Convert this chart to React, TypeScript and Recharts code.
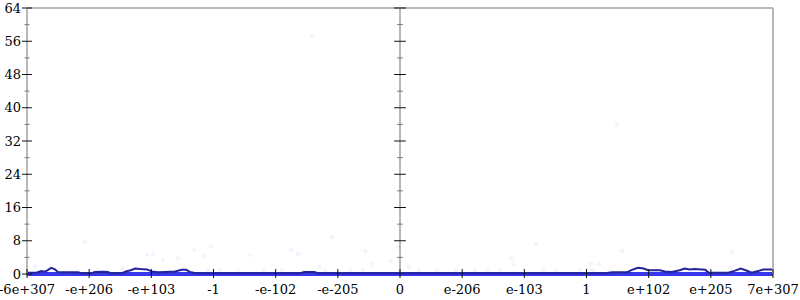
import React from "react";
import {
  ComposedChart,
  Line,
  ReferenceLine,
  Scatter,
  XAxis,
  YAxis,
} from "recharts";

const AXIS = "#b8b8b8";
const TICK = "#111111";
const MINOR = "#777777";
const DENSITY = "#24249a";
const BAND = "#3636ec";
const DOT = "#4a4aff";
const FONT = "'DejaVu Serif', serif";

// x positions are bucket indices (-6 .. 6), labelled with the bucket edges
const xTicks = [-6, -5, -4, -3, -2, -1, 0, 1, 2, 3, 4, 5, 6];
const xLabels = [
  "-6e+307", "-e+206", "-e+103", "-1", "-e-102", "-e-205", "0",
  "e-206", "e-103", "1", "e+102", "e+205", "7e+307",
];
const yTicks = [0, 4, 8, 12, 16, 20, 24, 28, 32, 36, 40, 44, 48, 52, 56, 60, 64];

// smoothed density curve
const densityX = [
  -6.0, -5.84, -5.77, -5.71, -5.66, -5.61, -5.55, -5.5, -5.37, -5.18, -5.12,
  -4.95, -4.91, -4.78, -4.7, -4.66, -4.47, -4.41, -4.33, -4.26, -4.18, -4.07,
  -3.99, -3.89, -3.78, -3.62, -3.51, -3.44, -3.38, -3.28, -1.61, -1.54, -1.38,
  -1.32, 0.0, 3.3, 3.41, 3.65, 3.73, 3.83, 3.92, 3.99, 4.18, 4.26, 4.37, 4.5,
  4.58, 4.66, 4.74, 4.91, 4.97, 5.28, 5.39, 5.48, 5.56, 5.66, 5.76, 5.84, 6.0,
];
const densityY = [
  0.3, 0.35, 0.7, 0.55, 1.0, 1.5, 1.1, 0.45, 0.4, 0.4, 0.2,
  0.2, 0.5, 0.55, 0.5, 0.2, 0.2, 0.6, 0.9, 1.3, 1.2, 1.1,
  0.6, 0.4, 0.5, 0.6, 1.0, 1.0, 0.5, 0.2, 0.2, 0.5, 0.5,
  0.2, 0.2, 0.2, 0.4, 0.4, 1.0, 1.5, 1.3, 0.9, 0.9, 0.6, 0.5, 0.9,
  1.3, 1.1, 1.2, 1.0, 0.3, 0.3, 0.8, 1.3, 0.9, 0.3, 0.7, 1.1, 1.1,
];

// faint individual samples
const sampleX = [
  -4.07, -3.97, -3.81, -3.57, -3.31, -3.14, -3.04, -2.41, -1.75, -1.64, -1.09,
  -1.3, -0.56, -0.45, -0.15, -0.03, 0.14, 1.79, 1.82, 2.19, 3.07, 3.2, 3.57,
  5.34, 5.31, -5.07, -5.87, -4.47, -1.42, 3.49,
  -3.1, -2.9, -2.6, -2.2, -1.9, -1.2, -0.8, -0.6, 0.3, 0.6, 0.9, 1.2, 1.4,
  1.6, 2.3, 2.5, 2.9, 3.1,
];
const sampleY = [
  4.6, 4.8, 3.4, 3.8, 5.8, 4.3, 6.7, 4.6, 5.8, 4.8, 8.9,
  1.7, 5.5, 2.6, 3.1, 6.5, 1.7, 3.8, 2.4, 7.2, 2.6, 2.4, 5.5,
  5.3, 1.4, 7.7, 1.9, 1.4, 57.3, 35.9,
  0.9, 1.0, 0.8, 0.9, 1.0, 0.8, 0.9, 1.0, 0.9, 0.8, 1.0, 0.9, 0.8,
  1.0, 0.9, 0.8, 1.0, 0.9,
];

const density = densityX.map((u, i) => ({ u, v: densityY[i] }));
const samples = sampleX.map((u, i) => ({ u, v: sampleY[i] }));

function LeftTick({ x, y, payload }: any) {
  const major = payload.value % 8 === 0;
  return (
    <g>
      <line
        x1={x - (major ? 5 : 2.5)}
        x2={x + (major ? 5 : 2.5)}
        y1={y}
        y2={y}
        stroke={major ? TICK : MINOR}
      />
      {major && (
        <text x={x - 6} y={y + 4.5} textAnchor="end" fontSize={13} fontFamily={FONT} fill="#000">
          {payload.value}
        </text>
      )}
    </g>
  );
}

function RightTick({ x, y, payload }: any) {
  const major = payload.value % 8 === 0;
  return (
    <line
      x1={x - (major ? 5 : 2.5)}
      x2={x + (major ? 5 : 2.5)}
      y1={y}
      y2={y}
      stroke={major ? TICK : MINOR}
    />
  );
}

function BottomTick({ x, y, payload, index }: any) {
  return (
    <g>
      <line x1={x} x2={x} y1={y - 5} y2={y + 4} stroke={TICK} />
      <text x={x} y={y + 20} textAnchor="middle" fontSize={13} fontFamily={FONT} fill="#000">
        {xLabels[index] ?? payload.value}
      </text>
    </g>
  );
}

function Dot({ cx, cy }: any) {
  return <circle cx={cx} cy={cy} r={2.2} fill={DOT} fillOpacity={0.06} />;
}

export default function App() {
  return (
    <div style={{ position: "absolute", left: 0, top: 0, width: 800, height: 300, background: "#fff" }}>
      <ComposedChart width={800} height={300} margin={{ top: 8, right: 0, bottom: 0, left: 0 }}>
        <XAxis
          dataKey="u"
          type="number"
          domain={[-6, 6]}
          ticks={xTicks}
          interval={0}
          height={26}
          tickSize={0}
          tickMargin={0}
          tickLine={false}
          axisLine={false}
          tick={<BottomTick />}
        />
        <YAxis
          yAxisId="left"
          type="number"
          domain={[0, 64]}
          ticks={yTicks}
          interval={0}
          width={27}
          tickSize={0}
          tickMargin={0}
          tickLine={false}
          axisLine={{ stroke: AXIS, strokeWidth: 2 }}
          tick={<LeftTick />}
        />
        <YAxis
          yAxisId="right"
          orientation="right"
          type="number"
          domain={[0, 64]}
          ticks={yTicks}
          interval={0}
          width={27}
          tickSize={0}
          tickMargin={0}
          tickLine={false}
          axisLine={{ stroke: AXIS, strokeWidth: 2 }}
          tick={<RightTick />}
        />
        <ReferenceLine yAxisId="left" y={64} stroke={AXIS} strokeWidth={2} ifOverflow="visible" />
        <ReferenceLine yAxisId="left" x={0} stroke={AXIS} strokeWidth={2} />
        {yTicks.map((t) => {
          const w = t % 8 === 0 ? 0.095 : 0.045;
          return (
            <ReferenceLine
              key={t}
              yAxisId="left"
              segment={[{ x: -w, y: t }, { x: w, y: t }]}
              stroke={t % 8 === 0 ? TICK : MINOR}
              strokeWidth={1}
              ifOverflow="visible"
            />
          );
        })}
        <Scatter
          yAxisId="left"
          data={samples}
          dataKey="v"
          shape={<Dot />}
          isAnimationActive={false}
        />
        <ReferenceLine yAxisId="left" y={0} stroke={BAND} strokeWidth={4} ifOverflow="visible" />
        <Line
          yAxisId="left"
          data={density}
          dataKey="v"
          type="linear"
          stroke={DENSITY}
          strokeWidth={2}
          dot={false}
          isAnimationActive={false}
        />
      </ComposedChart>
    </div>
  );
}
